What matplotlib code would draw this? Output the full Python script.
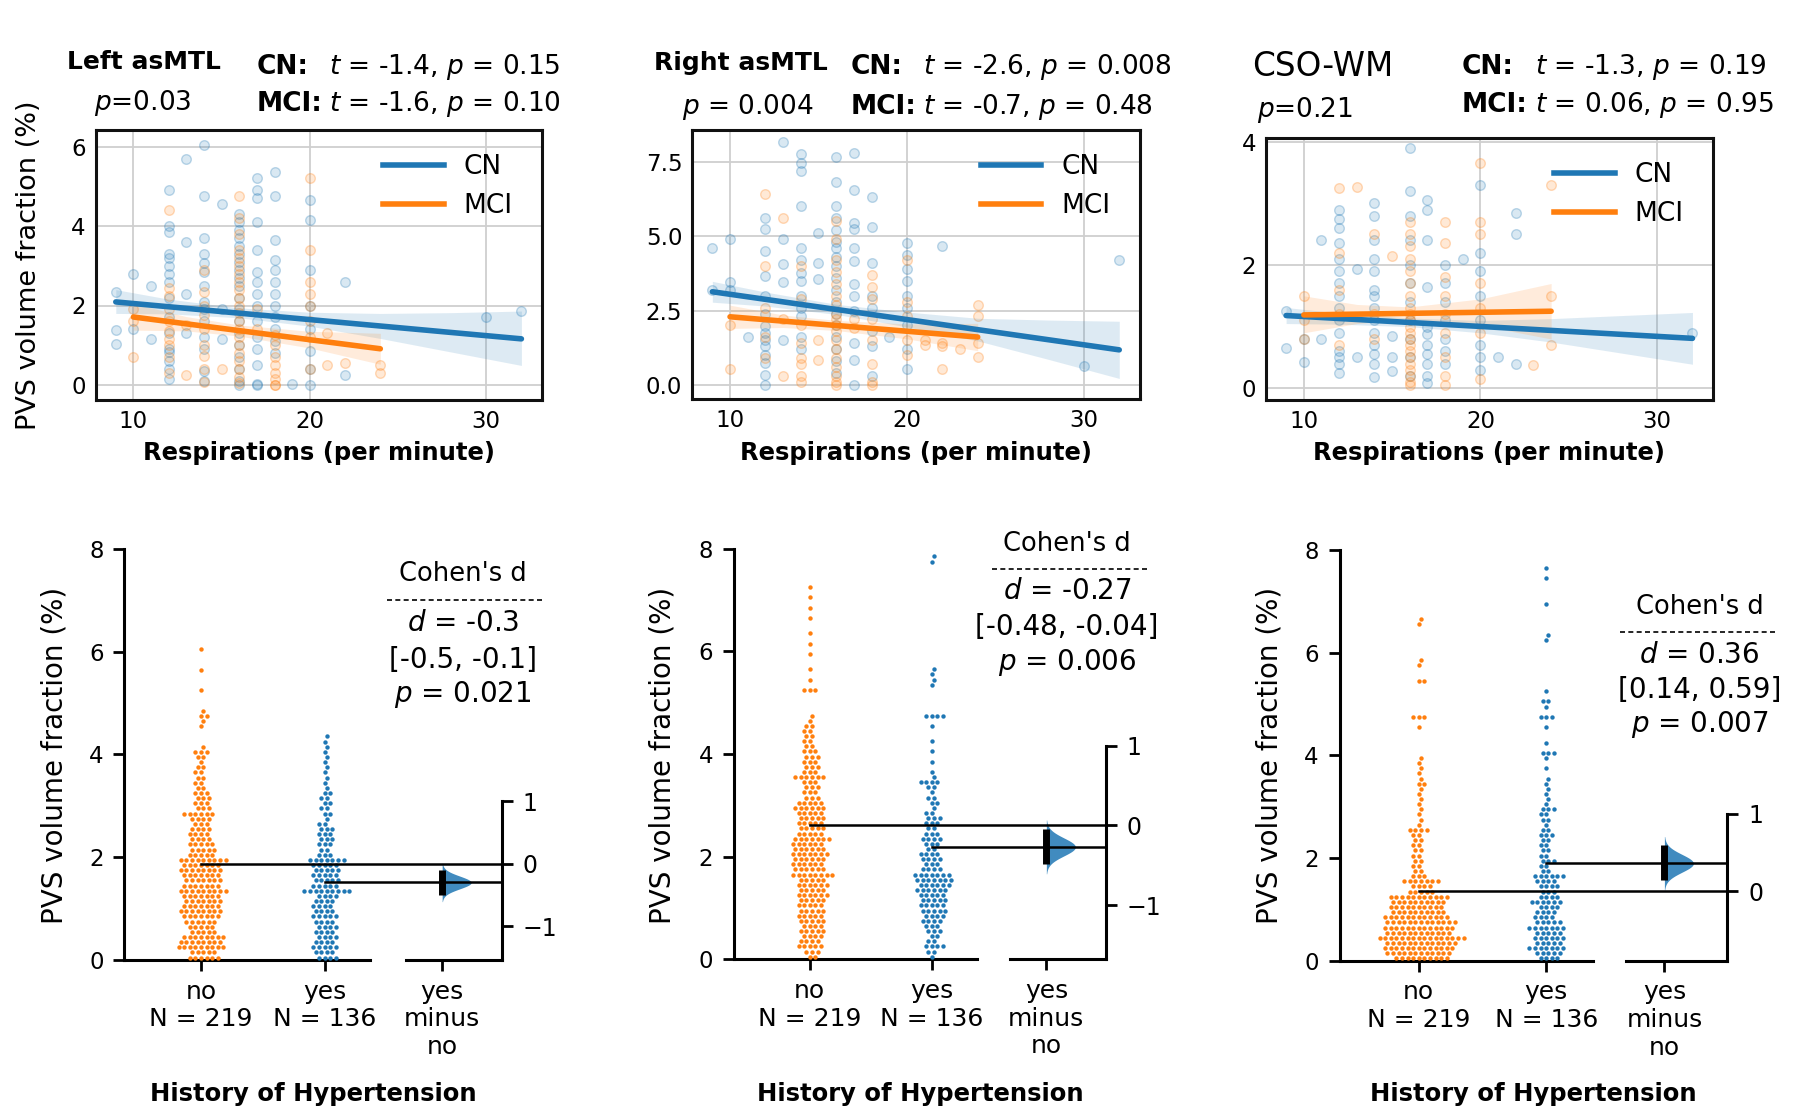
import numpy as np
import matplotlib
matplotlib.use("Agg")
import matplotlib.pyplot as plt
from matplotlib.lines import Line2D
from matplotlib.colors import to_rgba

plt.rcParams['font.family'] = ['DejaVu Sans']
plt.rcParams['mathtext.fontset'] = 'dejavusans'

BLUE = '#1f77b4'
ORANGE = '#ff7f0e'

# ---------------- top row: respirations vs PVS ----------------
lmtl_cn = {9: [1.38, 1.04, 2.35], 10: [2.8, 1.4], 11: [2.5, 1.15],
           12: [4.9, 4.0, 3.85, 3.3, 3.2, 3.0, 2.8, 2.6, 2.2, 1.7, 1.3, 0.9, 0.83, 0.6, 0.4, 0.15],
           13: [5.7, 3.6, 2.3, 1.3],
           14: [6.05, 4.75, 3.7, 3.3, 3.06, 2.85, 2.5, 2.1, 1.9, 1.6, 1.2, 0.9, 0.36, 0.1],
           15: [4.55, 1.9, 1.15],
           16: [4.3, 4.1, 3.9, 3.7, 3.5, 3.3, 3.1, 2.9, 2.7, 2.5, 2.2, 1.9, 1.6, 1.3, 1.0, 0.7, 0.4, 0.1, 0.0],
           17: [5.2, 4.9, 4.7, 4.1, 3.4, 2.85, 2.6, 2.3, 2.0, 1.6, 1.2, 0.9, 0.5, 0.03, 0.0],
           18: [5.35, 4.75, 3.65, 3.15, 2.9, 2.6, 2.3, 2.0, 1.7, 1.4, 1.1, 0.8],
           19: [0.03], 20: [4.65, 4.15, 2.9, 2.0, 1.4, 0.85, 0.4, 0.0],
           22: [2.6, 0.25], 30: [1.7], 32: [1.85]}
lmtl_mci = {10: [0.7, 1.6, 1.9], 12: [4.4, 2.45, 2.25, 1.9, 1.6, 1.35, 1.15, 1.0, 0.7, 0.3],
            13: [0.25, 1.5], 14: [2.9, 2.35, 2.0, 1.76, 1.4, 1.0, 0.74, 0.4, 0.07], 15: [0.4],
            16: [4.75, 4.2, 3.8, 3.4, 3.2, 3.0, 2.8, 2.6, 2.4, 2.2, 2.0, 1.8, 1.6, 1.4, 1.2, 1.0,
                 0.8, 0.6, 0.4, 0.2, 0.05],
            17: [1.9, 1.4], 18: [1.25, 1.0, 0.7, 0.5, 0.3, 0.15, 0.0, 0.0],
            20: [5.2, 3.4, 2.6, 2.3, 2.0, 1.6, 1.2, 0.4], 21: [0.5, 1.3], 22: [0.55], 24: [0.5, 0.3]}

rmtl_cn = {9: [4.6, 3.2], 10: [4.9, 3.45, 3.2], 11: [1.6],
           12: [5.6, 5.25, 4.5, 3.65, 3.0, 2.4, 1.97, 1.75, 1.5, 1.3, 1.0, 0.73, 0.35, 0.0],
           13: [8.15, 4.9, 4.05, 3.45, 1.5],
           14: [7.75, 7.45, 7.2, 6.0, 4.6, 4.2, 3.75, 3.5, 3.0, 2.6, 2.3, 1.6, 1.2],
           15: [5.1, 4.1, 3.55],
           16: [7.65, 6.8, 6.0, 5.6, 5.2, 4.8, 4.6, 4.3, 4.0, 3.6, 3.2, 2.8, 2.4, 2.0, 1.6, 1.2, 0.8, 0.4],
           17: [7.8, 6.55, 5.45, 5.25, 4.6, 4.15, 3.4, 3.0, 2.5, 1.4, 0.85, 0.0],
           18: [6.3, 5.3, 4.1, 3.0, 2.6, 1.8, 1.3, 0.3], 19: [1.6],
           20: [4.75, 4.35, 3.9, 3.5, 3.0, 2.6, 2.0, 1.2, 0.55], 22: [4.65], 30: [0.65], 32: [4.2]}
rmtl_mci = {10: [0.55, 2.0], 12: [6.4, 4.0, 2.6, 1.6, 0.9], 13: [5.6, 0.3, 2.2],
            14: [4.0, 2.9, 2.0, 1.4, 0.9, 0.7, 0.3, 0.1], 15: [1.5, 0.85],
            16: [5.5, 4.9, 4.2, 3.8, 3.4, 3.0, 2.7, 2.4, 2.2, 2.0, 1.8, 1.5, 1.2, 0.9, 0.6, 0.3, 0.1, 0.0],
            17: [2.2, 1.9], 18: [3.7, 3.3, 2.9, 2.2, 1.5, 0.7, 0.1, 0.0],
            20: [4.2, 2.8, 2.3, 1.5, 1.0], 21: [1.5, 1.35], 22: [1.4, 0.55, 1.3], 23: [1.2],
            24: [2.7, 2.3, 1.4, 0.95]}

cso_cn = {9: [1.25, 0.65], 10: [0.42, 0.8], 11: [2.4, 0.8],
          12: [2.9, 2.75, 2.6, 2.35, 2.1, 1.9, 1.7, 1.5, 1.3, 1.1, 0.9, 0.6, 0.5, 0.4, 0.25],
          13: [1.93, 0.5],
          14: [3.0, 2.8, 2.4, 2.1, 1.9, 1.6, 1.5, 1.3, 1.1, 0.9, 0.7, 0.55, 0.4, 0.18],
          15: [0.5, 0.28, 0.85],
          16: [3.9, 3.2, 2.8, 2.4, 2.0, 1.7, 1.4, 1.1, 0.8, 0.5, 0.2],
          17: [3.05, 2.9, 2.4, 1.65, 1.0, 0.88, 0.7, 0.55, 0.4, 0.2, 0.08],
          18: [2.0, 1.7, 1.4, 1.1, 0.8, 0.6, 0.4], 19: [2.1],
          20: [3.3, 2.2, 1.9, 1.5, 1.1, 0.7, 0.5, 0.3], 21: [0.5], 22: [2.85, 2.5, 0.4], 32: [0.9]}
cso_mci = {10: [1.5, 1.1, 0.8], 12: [3.25, 2.2, 1.6, 1.2, 0.7], 13: [3.26], 14: [2.5, 1.2, 0.8],
           15: [2.15],
           16: [2.7, 2.5, 2.3, 2.1, 1.9, 1.7, 1.5, 1.3, 1.2, 1.1, 1.0, 0.9, 0.8, 0.7, 0.6, 0.5,
                0.4, 0.3, 0.2, 0.1, 0.05],
           18: [2.7, 2.35, 1.8, 1.5, 1.2, 0.9, 0.5, 0.2, 0.05],
           20: [3.65, 2.7, 2.5, 1.7, 1.3, 0.9, 0.15], 23: [0.38], 24: [3.3, 1.5, 0.7]}

# regression lines (end points) and confidence bands
lmtl_cn_fit = ([9, 32], [2.09, 1.16])
lmtl_mci_fit = ([10, 24], [1.71, 0.91])
rmtl_cn_fit = ([9, 32], [3.13, 1.18])
rmtl_mci_fit = ([10, 24], [2.29, 1.61])
cso_cn_fit = ([9, 32], [1.18, 0.81])
cso_mci_fit = ([10, 24], [1.19, 1.25])

cn_band_x = [9, 12, 16, 20, 24, 28, 32]
mci_band_x = [10, 13, 16, 20, 24]
lmtl_cn_band = ([1.80, 1.79, 1.69, 1.48, 1.17, 0.83, 0.49], [2.40, 2.16, 1.94, 1.83, 1.80, 1.82, 1.86])
lmtl_mci_band = ([1.38, 1.36, 1.23, 0.93, 0.52], [2.05, 1.72, 1.51, 1.35, 1.30])
rmtl_cn_band = ([2.78, 2.65, 2.37, 1.95, 1.48, 0.86, 0.22], [3.48, 3.12, 2.71, 2.45, 2.24, 2.18, 2.14])
rmtl_mci_band = ([1.90, 1.93, 1.83, 1.55, 1.15], [2.68, 2.35, 2.17, 2.05, 2.07])
cso_cn_band = ([1.05, 1.04, 1.00, 0.90, 0.75, 0.57, 0.39], [1.31, 1.22, 1.14, 1.10, 1.13, 1.18, 1.23])
cso_mci_band = ([0.90, 1.05, 1.12, 1.02, 0.80], [1.50, 1.36, 1.32, 1.45, 1.70])

top_titles = ["Left asMTL", "Right asMTL", "CSO-WM"]
top_pvals = ["$p$=0.03", "$p$ = 0.004", "$p$=0.21"]
cn_stats = ["$t$ = -1.4, $p$ = 0.15", "$t$ = -2.6, $p$ = 0.008", "$t$ = -1.3, $p$ = 0.19"]
mci_stats = ["$t$ = -1.6, $p$ = 0.10", "$t$ = -0.7, $p$ = 0.48", "$t$ = 0.06, $p$ = 0.95"]

# ---------------- bottom row: hypertension swarms (counts per 0.1 bin) ----------------
bin_width = 0.1
lmtl_no_counts = [6, 5, 9, 8, 8, 5, 5, 6, 7, 8,
                  7, 7, 7, 9, 7, 7, 7, 8, 7, 9,
                  5, 5, 5, 4, 4, 4, 3, 4, 6, 3,
                  3, 3, 3, 2, 2, 2, 2, 2, 1, 2,
                  3, 1, 0, 0, 0, 1, 1, 2, 1, 0,
                  0, 0, 1, 0, 0, 0, 1, 0, 0, 0, 1]
lmtl_yes_counts = [4, 4, 5, 4, 4, 4, 4, 4, 5, 4,
                   4, 4, 4, 9, 5, 5, 5, 5, 5, 7,
                   3, 2, 3, 3, 3, 3, 2, 1, 2, 2,
                   2, 2, 2, 1, 1, 1, 1, 1, 1, 1,
                   1, 1, 1, 1]
rmtl_no_counts = [2, 3, 5, 4, 4, 5, 4, 5, 5, 5,
                  5, 5, 6, 5, 6, 5, 8, 6, 6, 6,
                  7, 6, 6, 7, 5, 5, 5, 5, 5, 6,
                  5, 3, 3, 3, 3, 6, 3, 3, 3, 3,
                  3, 2, 2, 2, 2, 2, 1, 1, 0, 0,
                  0, 0, 3, 0, 1, 0, 1, 0, 0, 1,
                  0, 1, 0, 1, 0, 0, 1, 0, 1, 0, 1, 0, 1]
rmtl_yes_counts = [1, 2, 4, 2, 2, 3, 3, 4, 4, 5,
                   5, 5, 5, 6, 6, 7, 7, 4, 3, 4,
                   4, 2, 3, 4, 3, 2, 3, 3, 2, 1,
                   2, 2, 1, 2, 4, 1, 1, 0, 1, 0,
                   1, 0, 1, 0, 0, 1, 0, 4, 0, 0,
                   0, 0, 0, 1, 1, 1, 1, 0, 0, 0,
                   0, 0, 0, 0, 0, 0, 0, 0, 0, 0,
                   0, 0, 0, 0, 0, 0, 0, 1, 1]
cso_no_counts = [10, 12, 13, 13, 16, 12, 13, 13, 12, 10,
                 10, 10, 11, 5, 4, 7, 3, 2, 2, 2,
                 2, 2, 2, 2, 2, 4, 1, 1, 1, 1,
                 1, 1, 1, 1, 2, 1, 1, 1, 1, 1,
                 0, 0, 0, 0, 0, 1, 0, 3, 0, 0,
                 0, 0, 0, 0, 2, 0, 0, 1, 1, 0,
                 0, 0, 0, 0, 0, 1, 1]
cso_yes_counts = [4, 5, 7, 5, 6, 5, 7, 5, 4, 4,
                  4, 6, 4, 3, 4, 4, 6, 2, 2, 3,
                  2, 2, 2, 2, 3, 2, 1, 2, 2, 3,
                  1, 1, 1, 1, 1, 1, 0, 1, 0, 1,
                  3, 0, 1, 0, 0, 1, 0, 3, 0, 1,
                  2, 0, 1, 0, 0, 0, 0, 0, 0, 0,
                  0, 0, 1, 1, 0, 0, 0, 0, 0, 1,
                  0, 0, 0, 0, 1, 0, 1]

group_means_no = [1.875, 2.61, 1.356]
group_means_yes = [1.51, 2.19, 1.90]
cohens_d = [-0.3, -0.27, 0.36]
cohens_lo = [-0.5, -0.48, 0.14]
cohens_hi = [-0.1, -0.04, 0.59]
cohen_lines = [["$d$ = -0.3", "[-0.5, -0.1]", "$p$ = 0.021"],
               ["$d$ = -0.27", "[-0.48, -0.04]", "$p$ = 0.006"],
               ["$d$ = 0.36", "[0.14, 0.59]", "$p$ = 0.007"]]
group_labels = ["no\nN = 219", "yes\nN = 136"]

# ---------------- layout (pixel boxes, top-left origin) ----------------
W, H = 1800, 1116
fig = plt.figure(figsize=(18, 11.16), dpi=100)


def box(x0, y0, x1, y1):
    return [x0 / W, 1 - y1 / H, (x1 - x0) / W, (y1 - y0) / H]


def ftext(x, y, s, **kw):
    kw.setdefault('ha', 'left')
    kw.setdefault('va', 'center')
    return fig.text(x / W, 1 - y / H, s, **kw)


def expand(d):
    xs, ys = [], []
    for k, v in d.items():
        xs += [k] * len(v)
        ys += v
    return np.array(xs, float), np.array(ys, float)


top_boxes = [(95.5, 130, 541.7, 400), (692, 130, 1139.6, 399.3), (1265.8, 138.3, 1712.8, 400)]
top_ylims = [(-0.38, 6.42), (-0.48, 8.56), (-0.19, 4.055)]
top_yticks = [[0, 2, 4, 6], [0, 2.5, 5, 7.5], [0, 2, 4]]
top_yticklabels = [["0", "2", "4", "6"], ["0.0", "2.5", "5.0", "7.5"], ["0", "2", "4"]]
top_data = [(lmtl_cn, lmtl_mci, lmtl_cn_fit, lmtl_mci_fit, lmtl_cn_band, lmtl_mci_band),
            (rmtl_cn, rmtl_mci, rmtl_cn_fit, rmtl_mci_fit, rmtl_cn_band, rmtl_mci_band),
            (cso_cn, cso_mci, cso_cn_fit, cso_mci_fit, cso_cn_band, cso_mci_band)]
title_pos = [(67, 61.7), (653.6, 63.3), (1251.7, 66.7)]
pval_pos = [(94, 102.7), (682, 106.7), (1257, 110)]
stat_pos = [(257, 329, 66.7, 104), (850.7, 923.4, 66.7, 106.7), (1462, 1534.9, 66.7, 105)]

for i in range(3):
    ax = fig.add_axes(box(*top_boxes[i]))
    cn, mci, cn_fit, mci_fit, cn_band, mci_band = top_data[i]
    for grp, fit, band, bx, col in [(cn, cn_fit, cn_band, cn_band_x, BLUE),
                                     (mci, mci_fit, mci_band, mci_band_x, ORANGE)]:
        gx, gy = expand(grp)
        ax.scatter(gx, gy, s=48, facecolors=[to_rgba(col, 0.17)], edgecolors=[to_rgba(col, 0.28)],
                   linewidths=1.0, zorder=2)
        ax.fill_between(bx, band[0], band[1], color=col, alpha=0.15, lw=0, zorder=3)
        ax.plot(fit[0], fit[1], color=col, lw=4, solid_capstyle='round', zorder=4)
    ax.set_xlim(7.85, 33.15)
    ax.set_ylim(*top_ylims[i])
    ax.set_xticks([10, 20, 30])
    ax.set_yticks(top_yticks[i])
    ax.set_yticklabels(top_yticklabels[i])
    ax.grid(True, color='#cfcfcf', lw=1.3)
    ax.set_axisbelow(True)
    for sp in ax.spines.values():
        sp.set_linewidth(2.2)
        sp.set_color('#111111')
    ax.tick_params(length=0, labelsize=16.5, pad=7)
    ax.legend(handles=[Line2D([], [], color=BLUE, lw=4), Line2D([], [], color=ORANGE, lw=4)],
              labels=["CN", "MCI"], loc='upper left', bbox_to_anchor=(0.645, 0.91),
              frameon=False, fontsize=19, handlelength=2.3, handletextpad=0.75,
              labelspacing=0.5, borderpad=0, borderaxespad=0)
    x0, y0, x1, y1 = top_boxes[i]
    ftext((x0 + x1) / 2, 453, "Respirations (per minute)", ha='center', fontsize=17.5,
          fontweight='bold')
    tx, ty = title_pos[i]
    if i < 2:
        ftext(tx, ty, top_titles[i], fontsize=18, fontweight='bold')
    else:
        ftext(tx, ty, top_titles[i], fontsize=23.5)
    ftext(*pval_pos[i], top_pvals[i], fontsize=19)
    lx, sx, y_cn, y_mci = stat_pos[i]
    ftext(lx, y_cn, "CN:", fontsize=19, fontweight='bold')
    ftext(lx, y_mci, "MCI:", fontsize=19, fontweight='bold')
    ftext(sx, y_cn, cn_stats[i], fontsize=19)
    ftext(sx, y_mci, mci_stats[i], fontsize=19)

ftext(29.5, 265, "PVS volume fraction (%)", rotation=90, ha='center', fontsize=19.5)


# ---------------- bottom row ----------------
def swarm_offsets(vals, d):
    order = np.argsort(vals, kind='stable')
    xs = np.zeros(len(vals))
    py, px = [], []
    for i in order:
        y = vals[i]
        near = [(yy, xx) for yy, xx in zip(py, px) if abs(yy - y) < d]
        cands = [0.0]
        for yy, xx in near:
            dx = np.sqrt(d * d - (yy - y) ** 2)
            cands += [xx + dx, xx - dx]
        cands.sort(key=abs)
        for c in cands:
            if all((c - xx) ** 2 + (y - yy) ** 2 >= d * d - 1e-6 for yy, xx in near):
                xs[i] = c
                break
        py.append(y)
        px.append(xs[i])
    return xs


def counts_to_values(counts):
    centers = (np.arange(len(counts)) + 0.5) * bin_width
    return np.repeat(centers, counts)


main_boxes = [(124.4, 548.7, 370.4, 960.1), (734, 548.7, 977, 959.3), (1339.7, 549.9, 1593.4, 960.9)]
contrast_boxes = [(405.7, 548.7, 502, 960.1), (1010, 548.7, 1106, 959.3), (1626, 549.9, 1727.4, 960.9)]
swarm_counts = [(lmtl_no_counts, lmtl_yes_counts), (rmtl_no_counts, rmtl_yes_counts),
                (cso_no_counts, cso_yes_counts)]
cohen_pos = [(463, 573.6, 600.4, 386.5, 543.4, [622.6, 659.7, 694.1]),
             (1067, 543.7, 569, 992.3, 1149.2, [590.8, 627.2, 662.4]),
             (1699.4, 607.3, 632.1, 1620.2, 1777.9, [654.7, 690.3, 724.7])]
ylabel_x = [54.5, 662, 1269.7]

XL = (-0.62, 1.37)
CXL = (-0.5, 0.82)
swarm_gap_px = 5.6   # centre spacing used by the swarm layout
dot_px = 4.4         # drawn marker diameter

for i in range(3):
    mb = main_boxes[i]
    cb = contrast_boxes[i]
    ax = fig.add_axes(box(*mb))
    axc = fig.add_axes(box(*cb))
    ax.set_xlim(*XL)
    ax.set_ylim(0, 8)
    px_y = (mb[3] - mb[1]) / 8.0
    px_x = (mb[2] - mb[0]) / (XL[1] - XL[0])
    for g, (counts, col) in enumerate(zip(swarm_counts[i], [ORANGE, BLUE])):
        vals = counts_to_values(counts)
        offs = swarm_offsets(vals * px_y, swarm_gap_px) / px_x
        ax.scatter(g + offs, vals, s=(dot_px * 0.72) ** 2, color=col, lw=0, zorder=3, clip_on=False)
    for side in ['top', 'right']:
        ax.spines[side].set_visible(False)
    for side in ['left', 'bottom']:
        ax.spines[side].set_linewidth(2.2)
    ax.set_yticks([0, 2, 4, 6, 8])
    ax.set_xticks([0, 1])
    ax.set_xticklabels(group_labels, linespacing=1.2)
    ax.tick_params(length=8, width=2, labelsize=16.5, pad=7)
    ax.tick_params(axis='x', labelsize=18, pad=6)

    # contrast axis aligned: 0 at "no" mean, d at "yes" mean
    m_no, m_yes, d = group_means_no[i], group_means_yes[i], cohens_d[i]
    scale = (m_yes - m_no) / d
    lo_lim, hi_lim = (0 - m_no) / scale, (8 - m_no) / scale
    axc.set_ylim(lo_lim, hi_lim)
    axc.set_xlim(*CXL)
    axc.patch.set_alpha(0)
    for side in ['top', 'left']:
        axc.spines[side].set_visible(False)
    axc.spines['right'].set_linewidth(2.2)
    axc.spines['bottom'].set_linewidth(2.2)
    axc.spines['right'].set_bounds(lo_lim, 1)
    axc.yaxis.tick_right()
    axc.set_yticks([t for t in [-1, 0, 1] if t >= lo_lim])
    axc.set_xticks([0])
    axc.set_xticklabels(["yes\nminus\nno"], linespacing=1.2)
    axc.tick_params(length=8, width=2, labelsize=17, pad=7)
    axc.tick_params(axis='x', labelsize=18, pad=6)

    # half violin from the reported CI, plus CI bar
    sd = (cohens_hi[i] - cohens_lo[i]) / 3.92
    yy = np.linspace(d - 3 * sd, d + 3 * sd, 200)
    cpx = (cb[2] - cb[0]) / (CXL[1] - CXL[0])
    ww = (29.0 / cpx) * np.exp(-0.5 * ((yy - d) / sd) ** 2)
    axc.fill_betweenx(yy, 0, ww, color=BLUE, alpha=0.85, lw=0, zorder=3)
    axc.plot([0, 0], [cohens_lo[i], cohens_hi[i]], color='black', lw=5, solid_capstyle='butt', zorder=4)
    axc.plot([0], [d], 'o', color='black', ms=4, zorder=5)

    # mean reference lines from each group to the contrast axis
    inv = fig.transFigure.inverted()
    for gx, m, cy in [(0, m_no, 0.0), (1, m_yes, d)]:
        p0 = inv.transform(ax.transData.transform((gx, m)))
        p1 = inv.transform(axc.transData.transform((CXL[1], cy)))
        fig.add_artist(Line2D([p0[0], p1[0]], [p0[1], p1[1]], color='black', lw=1.8,
                              transform=fig.transFigure, zorder=6))

    cx, cy_t, cy_dash, dx0, dx1, lines_y = cohen_pos[i]
    ftext(cx, cy_t, "Cohen's d", ha='center', fontsize=18.5)
    fig.add_artist(Line2D([dx0 / W, dx1 / W], [1 - cy_dash / H] * 2, color='black', lw=1.2,
                          dashes=(3, 2), transform=fig.transFigure))
    for s, ly in zip(cohen_lines[i], lines_y):
        ftext(cx, ly, s, ha='center', fontsize=20)

    ftext(ylabel_x[i], 755, "PVS volume fraction (%)", rotation=90, ha='center', fontsize=20)
    ftext((mb[0] + cb[2]) / 2, 1094, "History of Hypertension", ha='center', fontsize=17.5,
          fontweight='bold')

fig.savefig("out.png", dpi=100)
